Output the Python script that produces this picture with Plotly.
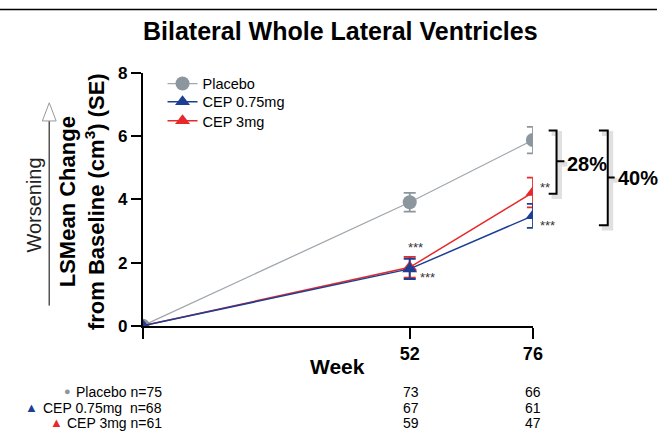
import plotly.graph_objects as go

# Study data: LS mean change from baseline in lateral ventricle volume
weeks = [0, 52, 76]
placebo = [0, 3.91, 5.88]
placebo_se = [0, 0.30, 0.42]
cep_075 = [0, 1.80, 3.48]
cep_075_se = [0, 0.32, 0.38]
cep_3 = [0, 1.85, 4.22]
cep_3_se = [0, 0.33, 0.47]

# Patients remaining at each visit
n_rows = ["Placebo n=75", "CEP 0.75mg&nbsp;&nbsp;n=68", "CEP 3mg n=61"]
n_52 = [73, 67, 59]
n_76 = [66, 61, 47]

# Axis ticks
week_ticks = [52, 76]
week_labels = ["<b>52</b>", "<b>76</b>"]
y_ticks = [0, 2, 4, 6, 8]
y_labels = ["<b>0</b>", "<b>2</b>", "<b>4</b>", "<b>6</b>", "<b>8</b>"]

W, H = 667, 440
FONT = "Liberation Sans, Arial, sans-serif"

GRAY_LINE = "#a0a7ad"
GRAY_MARK = "#8c969e"
BLUE = "#1c3f94"
RED = "#e8292b"


def px(x):
    return x / W


def py(y):
    return 1 - y / H


def label(x, y, text, size, color="black", xanchor="center", angle=0):
    return dict(x=px(x), y=py(y), xref="paper", yref="paper", text=text,
                xanchor=xanchor, yanchor="middle", textangle=angle, showarrow=False,
                font=dict(family=FONT, size=size, color=color))


fig = go.Figure()

fig.add_trace(go.Scatter(
    x=weeks, y=placebo, name="Placebo", mode="lines+markers",
    line=dict(color=GRAY_LINE, width=1.3),
    marker=dict(symbol="circle", size=14, color=GRAY_MARK),
    error_y=dict(type="data", array=placebo_se, color=GRAY_MARK, thickness=1.8, width=6),
    legend="legend",
))
fig.add_trace(go.Scatter(
    x=weeks, y=cep_3, name="CEP 3mg", mode="lines+markers",
    line=dict(color=RED, width=1.5),
    marker=dict(symbol="triangle-up", size=13, color=RED),
    error_y=dict(type="data", array=cep_3_se, color=RED, thickness=1.8, width=6),
    legend="legend3",
))
fig.add_trace(go.Scatter(
    x=weeks, y=cep_075, name="CEP 0.75mg", mode="lines+markers",
    line=dict(color=BLUE, width=1.5),
    marker=dict(symbol="triangle-up", size=13, color=BLUE),
    error_y=dict(type="data", array=cep_075_se, color=BLUE, thickness=1.8, width=6),
    legend="legend2",
))

ann = []

# Title
ann.append(label(346, 23, "<b>Bilateral Whole Lateral Ventricles</b>", 25))

# Y-axis title and "Worsening" side note
ann.append(label(84, 201, "<b>LSMean Change<br>from Baseline (cm<sup>3</sup>) (SE)</b>", 22, angle=-90))
ann.append(label(35, 205, "Worsening", 20, color="#222", angle=-90))

# X-axis title
ann.append(label(343, 374, "<b>Week</b>", 21))

# Significance markers
for (sx, sy, t) in [(422, 249, "***"), (434, 281, "***"), (553, 187, "**"), (556, 226, "***")]:
    ann.append(label(sx, sy, t, 13, color="#333"))

# Percent reduction labels
ann.append(label(574, 162, "<b>28%</b>", 20, xanchor="left"))
ann.append(label(625, 177, "<b>40%</b>", 20, xanchor="left"))

# Patient counts table
row_y = [400, 417, 433]
for i, name in enumerate(n_rows):
    ann.append(label(166, row_y[i], name, 14, xanchor="right"))
    ann.append(label(417, row_y[i], str(n_52[i]), 14))
    ann.append(label(541, row_y[i], str(n_76[i]), 14))
ann.append(label(69, 399, "●", 11, color=GRAY_MARK))
ann.append(label(32, 416, "▲", 13, color=BLUE))
ann.append(label(57, 432, "▲", 13, color=RED))

shapes = []
# Thin rule along the top edge
shapes.append(dict(type="line", xref="paper", yref="paper", x0=0, x1=1, y0=py(0.5), y1=py(0.5),
                   line=dict(color="black", width=1.5)))

# Plot area ends at week 76: hide the right half of the last markers and caps
shapes.append(dict(type="rect", xref="paper", yref="paper", layer="above",
                   x0=px(542), x1=px(553), y0=py(240), y1=py(110),
                   fillcolor="white", line=dict(width=0)))

# "Worsening" arrow
shapes.append(dict(type="line", xref="paper", yref="paper", x0=px(50), x1=px(50),
                   y0=py(310), y1=py(117), line=dict(color="#555", width=1.5)))
shapes.append(dict(type="path", xref="paper", yref="paper",
                   path=f"M {px(43)},{py(117)} L {px(50)},{py(98)} L {px(57)},{py(117)} Z",
                   fillcolor="white", line=dict(color="#999", width=1)))


def bracket(xl, xv, xm, ytop, ybot, ymid):
    return (f"M {px(xl)},{py(ytop)} L {px(xv)},{py(ytop)} L {px(xv)},{py(ybot)} L {px(xl)},{py(ybot)} "
            f"M {px(xv)},{py(ymid)} L {px(xm)},{py(ymid)}")


def shadow(xl, xv, xm, ytop, ybot, ymid, d=3):
    return bracket(xl + d, xv + d, xm + d, ytop + d, ybot + d, ymid + d)


for args in [(557, 565, 573, 127, 193, 159), (608, 617, 624, 127, 226, 176)]:
    shapes.append(dict(type="path", xref="paper", yref="paper", path=shadow(*args),
                       line=dict(color="rgba(0,0,0,0.12)", width=5)))
    shapes.append(dict(type="path", xref="paper", yref="paper", path=bracket(*args),
                       line=dict(color="black", width=2)))


def legend_row(y):
    return dict(x=px(165), y=py(y), xanchor="left", yanchor="middle",
                font=dict(family=FONT, size=14.5, color="black"),
                bgcolor="rgba(0,0,0,0)", itemwidth=30)


fig.update_layout(
    width=W, height=H,
    margin=dict(l=0, r=0, t=0, b=0),
    paper_bgcolor="white", plot_bgcolor="white",
    font=dict(family=FONT, color="black"),
    showlegend=True,
    legend=legend_row(78),
    legend2=legend_row(97),
    legend3=legend_row(117),
    xaxis=dict(domain=[px(145), px(541)], range=[0, 76],
               tickvals=week_ticks, ticktext=week_labels,
               minor=dict(tickvals=[0], ticks="outside", ticklen=11, tickwidth=2, tickcolor="black"),
               showgrid=False, zeroline=False, showline=True, linecolor="black", linewidth=2,
               ticks="outside", ticklen=11, tickwidth=2, tickcolor="black",
               tickfont=dict(family=FONT, size=18, color="black")),
    yaxis=dict(domain=[py(331), py(67)], range=[0, 8],
               tickvals=y_ticks, ticktext=y_labels,
               showgrid=False, zeroline=False, showline=True, linecolor="black", linewidth=2,
               ticks="outside", ticklen=10, tickwidth=2, tickcolor="black",
               tickfont=dict(family=FONT, size=17, color="black")),
    annotations=ann,
    shapes=shapes,
)

fig.write_html("out.html")
